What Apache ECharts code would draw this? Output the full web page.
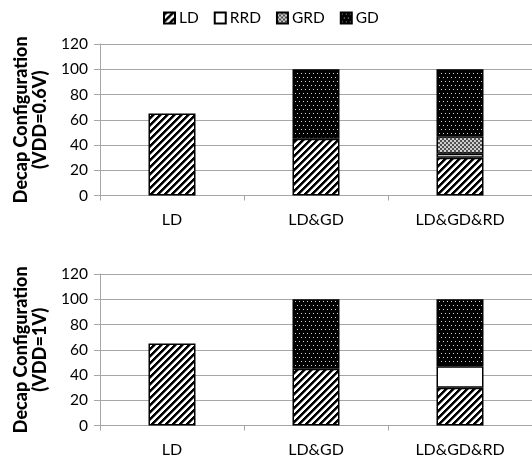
<!DOCTYPE html>
<html>
<head>
<meta charset="utf-8">
<script src="https://cdn.jsdelivr.net/npm/echarts@6/dist/echarts.min.js"></script>
<style>
html,body{margin:0;padding:0;background:#fff;}
#chart{width:532px;height:462px;}
</style>
</head>
<body>
<div id="chart"></div>
<script>
// ---- data ----
var categories = ['LD', 'LD&GD', 'LD&GD&RD'];
var seriesNames = ['LD', 'RRD', 'GRD', 'GD'];
var yTicks = [0, 20, 40, 60, 80, 100, 120];
// Top panel (VDD=0.6V)
var topLD  = [65, 45, 30];
var topRRD = [null, null, 3];
var topGRD = [null, null, 14];
var topGD  = [null, 55, 53];
// Bottom panel (VDD=1V)
var botLD  = [65, 45, 30];
var botRRD = [null, null, 17];
var botGRD = [null, null, null];
var botGD  = [null, 55, 53];
var topName = 'Decap Configuration\n(VDD=0.6V)';
var botName = 'Decap Configuration\n(VDD=1V)';

// ---- patterns ----
function makeCanvas(w, h, fn) {
  var c = document.createElement('canvas');
  c.width = w; c.height = h;
  var ctx = c.getContext('2d');
  fn(ctx);
  return c;
}
var stripeCanvas = makeCanvas(7, 7, function (ctx) {
  ctx.fillStyle = '#fff'; ctx.fillRect(0, 0, 7, 7);
  for (var x = 0; x < 7; x++) for (var y = 0; y < 7; y++) {
    var m = (x + y) % 7;
    if (m < 3) { ctx.fillStyle = '#000'; ctx.fillRect(x, y, 1, 1); }
    else if (m === 3) { ctx.fillStyle = '#777'; ctx.fillRect(x, y, 1, 1); }
  }
});
var dotsCanvas = makeCanvas(8, 8, function (ctx) {
  ctx.fillStyle = '#000'; ctx.fillRect(0, 0, 8, 8);
  ctx.fillStyle = '#d0d0d0';
  ctx.fillRect(1, 1, 1, 1); ctx.fillRect(5, 1, 1, 1);
  ctx.fillRect(3, 5, 1, 1); ctx.fillRect(7, 5, 1, 1);
});
var checkCanvas = makeCanvas(4, 4, function (ctx) {
  ctx.fillStyle = '#cfcfcf'; ctx.fillRect(0, 0, 4, 4);
  ctx.fillStyle = '#505050';
  ctx.fillRect(0, 0, 2, 2); ctx.fillRect(2, 2, 2, 2);
});
var fills = {
  LD: { image: stripeCanvas, repeat: 'repeat' },
  RRD: '#ffffff',
  GRD: { image: checkCanvas, repeat: 'repeat' },
  GD: { image: dotsCanvas, repeat: 'repeat' }
};

var FONT = 'Lato';
var gridCol = '#a6a6a6';

function xAxisCfg(gi) {
  return {
    type: 'category', gridIndex: gi, data: categories,
    axisLine: { lineStyle: { color: gridCol, width: 1 } },
    axisTick: { show: true, length: 5, lineStyle: { color: gridCol } },
    axisLabel: { color: '#000', fontSize: 16, fontFamily: FONT, margin: 16 }
  };
}
function yAxisCfg(gi, name) {
  return {
    type: 'value', gridIndex: gi, min: yTicks[0], max: yTicks[yTicks.length - 1], interval: 20,
    name: name, nameLocation: 'middle', nameRotate: 90, nameGap: 50,
    nameTextStyle: { color: '#000', fontSize: 18, fontWeight: 900, fontFamily: FONT, lineHeight: 19 },
    axisLine: { show: true, lineStyle: { color: gridCol, width: 1 } },
    axisTick: { show: true, length: 6, lineStyle: { color: gridCol } },
    splitLine: { show: true, lineStyle: { color: gridCol, width: 1 } },
    axisLabel: { color: '#000', fontSize: 15.5, fontFamily: FONT, margin: 12 }
  };
}
function barSeries(name, data, gi) {
  return {
    name: name, type: 'bar', data: data, stack: 'g' + gi,
    xAxisIndex: gi, yAxisIndex: gi, barWidth: 47,
    itemStyle: { color: fills[name], borderColor: '#000', borderWidth: 1.5 },
    emphasis: { disabled: true }
  };
}

var chart = echarts.init(document.getElementById('chart'), null, { renderer: 'canvas' });
chart.setOption({
  animation: false,
  backgroundColor: '#fff',
  legend: {
    data: seriesNames, top: 5, left: 158,
    itemWidth: 11, itemHeight: 11, itemGap: 15,
    icon: 'rect',
    textStyle: { color: '#000', fontSize: 15.5, fontFamily: FONT, padding: [0, 0, 0, -1] }
  },
  grid: [
    { left: 100, right: -7, top: 44, height: 151.5 },
    { left: 100, right: -7, top: 274, height: 151.5 }
  ],
  xAxis: [xAxisCfg(0), xAxisCfg(1)],
  yAxis: [yAxisCfg(0, topName), yAxisCfg(1, botName)],
  series: [
    barSeries('LD', topLD, 0), barSeries('RRD', topRRD, 0),
    barSeries('GRD', topGRD, 0), barSeries('GD', topGD, 0),
    barSeries('LD', botLD, 1), barSeries('RRD', botRRD, 1),
    barSeries('GRD', botGRD, 1), barSeries('GD', botGD, 1)
  ]
});
</script>
</body>
</html>
